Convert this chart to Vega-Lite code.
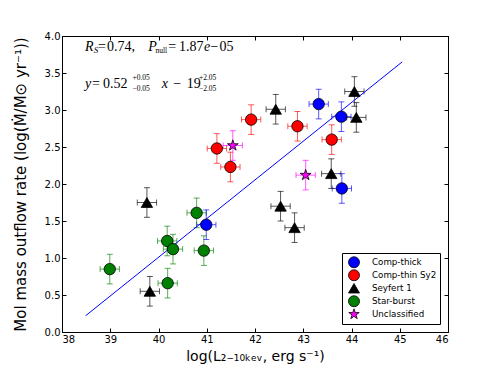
{
  "$schema": "https://vega.github.io/schema/vega-lite/v6.json",
  "width": 386,
  "height": 296,
  "autosize": {"type": "none"},
  "padding": {"left": 62, "top": 36, "right": 43, "bottom": 36},
  "background": "white",
  "config": {
    "view": {"stroke": null},
    "font": "DejaVu Sans",
    "axis": {
      "grid": false,
      "domainColor": "black",
      "tickColor": "black",
      "labelColor": "black",
      "titleColor": "black",
      "labelFont": "DejaVu Sans",
      "titleFont": "DejaVu Sans",
      "titleFontWeight": "normal",
      "labelFontSize": 10,
      "titleFontSize": 14,
      "tickSize": -4,
      "domainWidth": 1,
      "tickWidth": 1
    },
    "legend": {
      "rowPadding": 0,
      "clipHeight": 12.5,
      "symbolSize": 121,
      "labelFontSize": 8.7,
      "labelFont": "DejaVu Sans",
      "labelColor": "black",
      "labelOffset": 12,
      "symbolOffset": 3,
      "padding": 3,
      "strokeColor": "black",
      "fillColor": "white",
      "symbolStrokeColor": "black",
      "symbolStrokeWidth": 0.8
    }
  },
  "datasets": {
    "pts": [
      {"group": "Comp-thick", "x": 43.32, "y": 3.08, "xlo": 43.12, "xhi": 43.52, "ylo": 2.88, "yhi": 3.28},
      {"group": "Comp-thick", "x": 43.79, "y": 2.91, "xlo": 43.59, "xhi": 43.99, "ylo": 2.71, "yhi": 3.11},
      {"group": "Comp-thick", "x": 43.8, "y": 1.94, "xlo": 43.6, "xhi": 44.0, "ylo": 1.74, "yhi": 2.14},
      {"group": "Comp-thick", "x": 40.99, "y": 1.45, "xlo": 40.79, "xhi": 41.19, "ylo": 1.25, "yhi": 1.65},
      {"group": "Comp-thin Sy2", "x": 41.92, "y": 2.87, "xlo": 41.72, "xhi": 42.12, "ylo": 2.67, "yhi": 3.07},
      {"group": "Comp-thin Sy2", "x": 42.88, "y": 2.78, "xlo": 42.68, "xhi": 43.08, "ylo": 2.58, "yhi": 2.98},
      {"group": "Comp-thin Sy2", "x": 41.21, "y": 2.48, "xlo": 41.01, "xhi": 41.41, "ylo": 2.28, "yhi": 2.68},
      {"group": "Comp-thin Sy2", "x": 41.49, "y": 2.23, "xlo": 41.29, "xhi": 41.69, "ylo": 2.03, "yhi": 2.43},
      {"group": "Comp-thin Sy2", "x": 43.59, "y": 2.6, "xlo": 43.39, "xhi": 43.79, "ylo": 2.4, "yhi": 2.8},
      {"group": "Seyfert 1", "x": 42.43, "y": 3.01, "xlo": 42.23, "xhi": 42.63, "ylo": 2.81, "yhi": 3.21},
      {"group": "Seyfert 1", "x": 44.06, "y": 3.25, "xlo": 43.86, "xhi": 44.26, "ylo": 3.05, "yhi": 3.45},
      {"group": "Seyfert 1", "x": 44.1, "y": 2.9, "xlo": 43.9, "xhi": 44.3, "ylo": 2.7, "yhi": 3.1},
      {"group": "Seyfert 1", "x": 43.58, "y": 2.14, "xlo": 43.38, "xhi": 43.78, "ylo": 1.94, "yhi": 2.34},
      {"group": "Seyfert 1", "x": 39.76, "y": 1.75, "xlo": 39.56, "xhi": 39.96, "ylo": 1.55, "yhi": 1.95},
      {"group": "Seyfert 1", "x": 42.53, "y": 1.7, "xlo": 42.33, "xhi": 42.73, "ylo": 1.5, "yhi": 1.9},
      {"group": "Seyfert 1", "x": 42.82, "y": 1.41, "xlo": 42.62, "xhi": 43.02, "ylo": 1.21, "yhi": 1.61},
      {"group": "Seyfert 1", "x": 39.82, "y": 0.55, "xlo": 39.62, "xhi": 40.02, "ylo": 0.35, "yhi": 0.75},
      {"group": "Star-burst", "x": 38.99, "y": 0.85, "xlo": 38.79, "xhi": 39.19, "ylo": 0.65, "yhi": 1.05},
      {"group": "Star-burst", "x": 40.79, "y": 1.61, "xlo": 40.59, "xhi": 40.99, "ylo": 1.41, "yhi": 1.81},
      {"group": "Star-burst", "x": 40.18, "y": 1.23, "xlo": 39.98, "xhi": 40.38, "ylo": 1.03, "yhi": 1.43},
      {"group": "Star-burst", "x": 40.3, "y": 1.12, "xlo": 40.1, "xhi": 40.5, "ylo": 0.92, "yhi": 1.32},
      {"group": "Star-burst", "x": 40.94, "y": 1.1, "xlo": 40.74, "xhi": 41.14, "ylo": 0.9, "yhi": 1.3},
      {"group": "Star-burst", "x": 40.19, "y": 0.66, "xlo": 39.99, "xhi": 40.39, "ylo": 0.46, "yhi": 0.86},
      {"group": "Unclassified", "x": 41.54, "y": 2.52, "xlo": 41.34, "xhi": 41.74, "ylo": 2.32, "yhi": 2.72},
      {"group": "Unclassified", "x": 43.05, "y": 2.12, "xlo": 42.85, "xhi": 43.25, "ylo": 1.92, "yhi": 2.32}
    ],
    "fit": [
      {"x": 38.49, "y": 0.22},
      {"x": 45.05, "y": 3.65}
    ],
    "mainUp": [
      {"t": "=", "x": 38.746, "y": 3.801},
      {"t": "0.74,", "x": 38.933, "y": 3.801},
      {"t": "=", "x": 40.203, "y": 3.801},
      {"t": "1.87", "x": 40.425, "y": 3.801},
      {"t": "−", "x": 41.078, "y": 3.801},
      {"t": "05", "x": 41.264, "y": 3.801},
      {"t": "=", "x": 38.622, "y": 3.297},
      {"t": "0.52", "x": 38.85, "y": 3.297},
      {"t": "−", "x": 40.307, "y": 3.297},
      {"t": "19", "x": 40.584, "y": 3.297}
    ],
    "mainIt": [
      {"t": "R", "x": 38.477, "y": 3.801},
      {"t": "P", "x": 39.789, "y": 3.801},
      {"t": "e", "x": 40.943, "y": 3.801},
      {"t": "y", "x": 38.477, "y": 3.297},
      {"t": "x", "x": 40.066, "y": 3.297}
    ],
    "smallUp": [
      {"t": "null", "x": 39.938, "y": 3.77},
      {"t": "+0.05", "x": 39.461, "y": 3.401},
      {"t": "−0.05", "x": 39.461, "y": 3.253},
      {"t": "+2.05", "x": 40.839, "y": 3.401},
      {"t": "−2.05", "x": 40.839, "y": 3.253}
    ],
    "smallIt": [
      {"t": "S", "x": 38.66, "y": 3.77}
    ]
  },
  "layer": [
    {
      "data": {"name": "pts"},
      "mark": {"type": "errorbar", "ticks": {"size": 6, "opacity": 0.65}, "rule": {"opacity": 0.65}},
      "encoding": {
        "x": {"field": "xlo", "type": "quantitative", "scale": {"domain": [38, 46], "nice": false, "zero": false}, "axis": null},
        "x2": {"field": "xhi"},
        "y": {"field": "y", "type": "quantitative", "scale": {"domain": [0, 4], "nice": false, "zero": false}, "axis": null},
        "color": {"field": "group", "type": "nominal", "legend": null,
          "scale": {"domain": ["Comp-thick", "Comp-thin Sy2", "Seyfert 1", "Star-burst", "Unclassified"], "range": ["#0000ff", "#ff0000", "#000000", "#008000", "#ff00ff"]}}
      }
    },
    {
      "data": {"name": "pts"},
      "mark": {"type": "errorbar", "ticks": {"size": 6, "opacity": 0.65}, "rule": {"opacity": 0.65}},
      "encoding": {
        "x": {"field": "x", "type": "quantitative", "scale": {"domain": [38, 46], "nice": false, "zero": false}, "axis": null},
        "y": {"field": "ylo", "type": "quantitative", "scale": {"domain": [0, 4], "nice": false, "zero": false}, "axis": null},
        "y2": {"field": "yhi"},
        "color": {"field": "group", "type": "nominal", "legend": null}
      }
    },
    {
      "data": {"name": "fit"},
      "mark": {"type": "line", "color": "#0000ff", "strokeWidth": 1},
      "encoding": {
        "x": {"field": "x", "type": "quantitative", "scale": {"domain": [38, 46], "nice": false, "zero": false},
          "axis": {"orient": "top", "labels": false, "title": null, "values": [38, 39, 40, 41, 42, 43, 44, 45, 46]}},
        "y": {"field": "y", "type": "quantitative", "scale": {"domain": [0, 4], "nice": false, "zero": false},
          "axis": {"orient": "right", "labels": false, "title": null, "values": [0, 0.5, 1, 1.5, 2, 2.5, 3, 3.5, 4]}}
      }
    },
    {
      "data": {"name": "pts"},
      "mark": {"type": "point", "filled": true, "opacity": 1, "stroke": "black", "strokeWidth": 0.8, "size": 130},
      "encoding": {
        "x": {"field": "x", "type": "quantitative", "scale": {"domain": [38, 46], "nice": false, "zero": false},
          "axis": {"orient": "bottom", "title": "log(L₂₋₁₀ₖₑᵥ, erg s⁻¹)", "values": [38, 39, 40, 41, 42, 43, 44, 45, 46], "format": "d", "labelPadding": 6, "titlePadding": 5}},
        "y": {"field": "y", "type": "quantitative", "scale": {"domain": [0, 4], "nice": false, "zero": false},
          "axis": {"orient": "left", "title": "Mol mass outflow rate (log(Ṁ/M⊙ yr⁻¹))", "titleFontSize": 15, "values": [0, 0.5, 1, 1.5, 2, 2.5, 3, 3.5, 4], "format": ".1f", "labelPadding": 6, "titlePadding": 16}},
        "color": {"field": "group", "type": "nominal",
          "legend": {"title": null, "orient": "bottom-right", "offset": 8}},
        "shape": {"field": "group", "type": "nominal",
          "scale": {"domain": ["Comp-thick", "Comp-thin Sy2", "Seyfert 1", "Star-burst", "Unclassified"], "range": ["circle", "circle", "triangle-up", "circle", "M0,-1L0.2245,-0.309L0.951,-0.309L0.363,0.118L0.588,0.809L0,0.382L-0.588,0.809L-0.363,0.118L-0.951,-0.309L-0.2245,-0.309Z"]},
          "legend": {"title": null, "orient": "bottom-right", "offset": 8}}
      }
    },
    {
      "data": {"name": "mainUp"},
      "mark": {"type": "text", "font": "Liberation Serif", "fontSize": 14, "align": "left", "baseline": "alphabetic", "color": "black"},
      "encoding": {
        "x": {"field": "x", "type": "quantitative", "scale": {"domain": [38, 46], "nice": false, "zero": false}, "axis": null},
        "y": {"field": "y", "type": "quantitative", "scale": {"domain": [0, 4], "nice": false, "zero": false}, "axis": null},
        "text": {"field": "t"}
      }
    },
    {
      "data": {"name": "mainIt"},
      "mark": {"type": "text", "font": "Liberation Serif", "fontSize": 14, "fontStyle": "italic", "align": "left", "baseline": "alphabetic", "color": "black"},
      "encoding": {
        "x": {"field": "x", "type": "quantitative", "scale": {"domain": [38, 46], "nice": false, "zero": false}, "axis": null},
        "y": {"field": "y", "type": "quantitative", "scale": {"domain": [0, 4], "nice": false, "zero": false}, "axis": null},
        "text": {"field": "t"}
      }
    },
    {
      "data": {"name": "smallUp"},
      "mark": {"type": "text", "font": "Liberation Serif", "fontSize": 7.5, "align": "left", "baseline": "alphabetic", "color": "black"},
      "encoding": {
        "x": {"field": "x", "type": "quantitative", "scale": {"domain": [38, 46], "nice": false, "zero": false}, "axis": null},
        "y": {"field": "y", "type": "quantitative", "scale": {"domain": [0, 4], "nice": false, "zero": false}, "axis": null},
        "text": {"field": "t"}
      }
    },
    {
      "data": {"name": "smallIt"},
      "mark": {"type": "text", "font": "Liberation Serif", "fontSize": 9, "fontStyle": "italic", "align": "left", "baseline": "alphabetic", "color": "black"},
      "encoding": {
        "x": {"field": "x", "type": "quantitative", "scale": {"domain": [38, 46], "nice": false, "zero": false}, "axis": null},
        "y": {"field": "y", "type": "quantitative", "scale": {"domain": [0, 4], "nice": false, "zero": false}, "axis": null},
        "text": {"field": "t"}
      }
    }
  ],
  "resolve": {
    "axis": {"x": "independent", "y": "independent"},
    "legend": {"color": "independent", "shape": "independent"}
  }
}
